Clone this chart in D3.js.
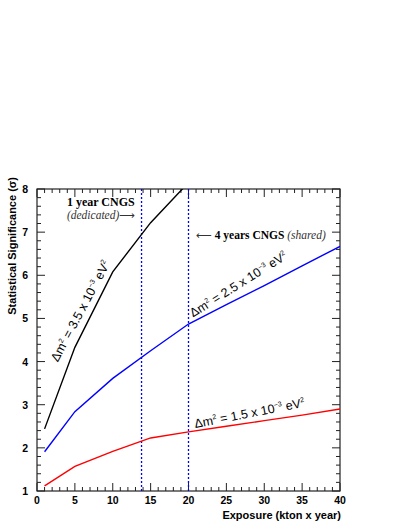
<!DOCTYPE html>
<html>
<head>
<meta charset="utf-8">
<script src="https://cdn.jsdelivr.net/npm/d3@7"></script>
<style>
  body { margin: 0; background: #fff; }
  text { font-family: "Liberation Sans", Arial, sans-serif; }
  .serif { font-family: "Liberation Serif", "Times New Roman", serif; }
  .arrow { font-family: "DejaVu Sans", sans-serif; font-style: normal; }
</style>
</head>
<body>
<svg width="409" height="529"></svg>
<script>
// exposure points (kton x year)
var exposure = [1, 5, 10, 15, 20, 25, 30, 35, 40];

// significance for each delta m^2
var sig35 = [2.44, 4.33, 6.08, 7.22, 8.15];
var sig25 = [1.91, 2.84, 3.61, 4.25, 4.87, 5.32, 5.76, 6.22, 6.67];
var sig15 = [1.12, 1.57, 1.92, 2.23, 2.37, 2.5, 2.63, 2.76, 2.9];

var xTicks = [0, 5, 10, 15, 20, 25, 30, 35, 40];
var yTicks = [1, 2, 3, 4, 5, 6, 7, 8];

// vertical markers: 1 year dedicated, 4 years shared
var markers = [13.8, 20];

var svg = d3.select("svg"),
    margin = {top: 189, right: 69, bottom: 38, left: 37},
    width = +svg.attr("width") - margin.left - margin.right,
    height = +svg.attr("height") - margin.top - margin.bottom,
    g = svg.append("g").attr("transform", "translate(" + margin.left + "," + margin.top + ")");

var x = d3.scaleLinear().domain([0, 40]).range([0, width]);
var y = d3.scaleLinear().domain([1, 8]).range([height, 0]);

g.append("defs").append("clipPath").attr("id", "clip")
  .append("rect").attr("width", width).attr("height", height);

// ticks, all pointing inward (ROOT style)
var xMinor = d3.range(0, 41, 1), yMinor = d3.range(1, 8.01, 0.2);

function ticksX(yPos, dir) {
  g.selectAll(null).data(xMinor).enter().append("line")
    .attr("x1", d => x(d)).attr("x2", d => x(d))
    .attr("y1", yPos).attr("y2", d => yPos + dir * (d % 5 === 0 ? 8 : 4))
    .attr("stroke", "#222").attr("stroke-width", 1);
}
function ticksY(xPos, dir) {
  g.selectAll(null).data(yMinor).enter().append("line")
    .attr("y1", d => y(d)).attr("y2", d => y(d))
    .attr("x1", xPos).attr("x2", (d, i) => xPos + dir * (i % 5 === 0 ? 8 : 4))
    .attr("stroke", "#222").attr("stroke-width", 1);
}
ticksX(height, -1);
ticksX(0, 1);
ticksY(0, 1);
ticksY(width, -1);

g.append("rect")
  .attr("width", width).attr("height", height)
  .attr("fill", "none").attr("stroke", "#222").attr("stroke-width", 1.2);

// tick labels
g.selectAll(".xl").data(xTicks).enter().append("text")
  .attr("x", d => x(d)).attr("y", height + 13)
  .attr("text-anchor", "middle")
  .attr("font-size", 10.5).attr("font-weight", "bold")
  .text(d => d);

g.selectAll(".yl").data(yTicks).enter().append("text")
  .attr("x", -9).attr("y", d => y(d) + 4)
  .attr("text-anchor", "end")
  .attr("font-size", 10.5).attr("font-weight", "bold")
  .text(d => d);

// axis titles
g.append("text")
  .attr("x", width + 1).attr("y", height + 28)
  .attr("text-anchor", "end")
  .attr("font-size", 11).attr("font-weight", "bold")
  .text("Exposure (kton x year)");

g.append("text")
  .attr("transform", "translate(" + (16 - margin.left) + ",-12) rotate(-90)")
  .attr("text-anchor", "end")
  .attr("font-size", 11).attr("font-weight", "bold")
  .text("Statistical Significance (\u03c3)");

// dotted markers
g.selectAll(".mk").data(markers).enter().append("line")
  .attr("x1", d => x(d)).attr("x2", d => x(d))
  .attr("y1", 0).attr("y2", height)
  .attr("stroke", "#0000ff").attr("stroke-width", 1.3)
  .attr("stroke-dasharray", "2,2");

var line = d3.line()
  .x(function(d) { return x(d[0]); })
  .y(function(d) { return y(d[1]); });

var curves = [
  {vals: sig35, color: "#000000"},
  {vals: sig25, color: "#0000ff"},
  {vals: sig15, color: "#ff0000"}
];

g.append("g").attr("clip-path", "url(#clip)")
  .selectAll("path").data(curves).enter().append("path")
  .attr("fill", "none")
  .attr("stroke", d => d.color)
  .attr("stroke-width", 1.4)
  .attr("d", d => line(d.vals.map((v, i) => [exposure[i], v])));

// curve labels
var labels = [
  {val: "3.5", x: 2.75, y: 3.98, angle: -62},
  {val: "2.5", x: 20.6, y: 5.02, angle: -32},
  {val: "1.5", x: 20.9, y: 2.46, angle: -11}
];

labels.forEach(function(l) {
  var t = g.append("text")
    .attr("transform", "translate(" + x(l.x) + "," + y(l.y) + ") rotate(" + l.angle + ")")
    .attr("font-size", 12.5);
  t.append("tspan").text("\u0394m");
  t.append("tspan").attr("font-size", 7).attr("dy", -5).text("2");
  t.append("tspan").attr("dy", 5).text(" = " + l.val + " x 10");
  t.append("tspan").attr("font-size", 7).attr("dy", -5).text("\u22123");
  t.append("tspan").attr("dy", 5).text(" eV");
  t.append("tspan").attr("font-size", 7).attr("dy", -5).text("2");
});

// CNGS annotations
g.append("text").attr("class", "serif")
  .attr("x", x(3.95)).attr("y", y(7.6))
  .attr("font-size", 12).attr("font-weight", "bold")
  .text("1 year CNGS");

var td = g.append("text").attr("class", "serif")
  .attr("x", x(3.95)).attr("y", y(7.31))
  .attr("font-size", 11.5).attr("fill", "#333");
td.append("tspan").attr("font-style", "italic").text("(dedicated)");
td.append("tspan").attr("class", "arrow").attr("font-size", 11).text("\u27F6");

var t4 = g.append("text").attr("class", "serif")
  .attr("x", x(21)).attr("y", y(6.83))
  .attr("font-size", 11.5);
t4.append("tspan").attr("class", "arrow").attr("font-size", 11).attr("fill", "#333").text("\u27F5");
t4.append("tspan").attr("font-weight", "bold").text("  4 years CNGS ");
t4.append("tspan").attr("font-style", "italic").attr("fill", "#333").text("(shared)");
</script>
</body>
</html>
